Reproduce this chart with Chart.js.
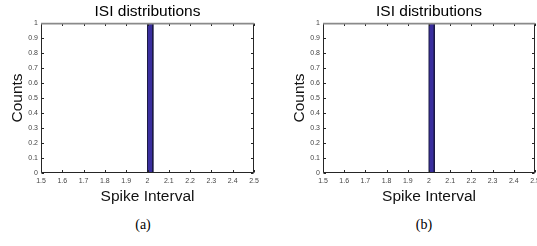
<!DOCTYPE html>
<html>
<head>
<meta charset="utf-8">
<script src="https://cdn.jsdelivr.net/npm/chart.js@4/dist/chart.umd.min.js"></script>
<style>
  html, body { margin: 0; padding: 0; background: #fff; overflow: hidden; }
  body { width: 537px; height: 246px; position: relative; }
  .panel { position: absolute; top: 0; height: 210px; }
  .caption { position: absolute; top: 217px; width: 60px; line-height: 16px; text-align: center;
             font-family: "Liberation Serif", "Times New Roman", serif; font-size: 14px; color: #000; }
</style>
</head>
<body>
<div class="panel" style="left:0;width:268px"><canvas id="chartA"></canvas></div>
<div class="panel" style="left:269px;width:290px"><canvas id="chartB"></canvas></div>
<div class="caption" style="left:113px">(a)</div>
<div class="caption" style="left:394px">(b)</div>
<script>
// histogram bins (same data in both panels)
const binEdges = [2.000, 2.025, 2.050, 2.075, 2.100, 2.125, 2.150, 2.175, 2.200, 2.225, 2.250,
                  2.275, 2.300, 2.325, 2.350, 2.375, 2.400, 2.425, 2.450, 2.475, 2.500];
const countsA = [1, 0, 0, 0, 0, 0, 0, 0, 0, 0, 0, 0, 0, 0, 0, 0, 0, 0, 0, 0];
const countsB = [1, 0, 0, 0, 0, 0, 0, 0, 0, 0, 0, 0, 0, 0, 0, 0, 0, 0, 0, 0];
const xTicks = [1.5, 1.6, 1.7, 1.8, 1.9, 2, 2.1, 2.2, 2.3, 2.4, 2.5];
const xTickLabels = ["1.5", "1.6", "1.7", "1.8", "1.9", "2", "2.1", "2.2", "2.3", "2.4", "2.5"];
const yTicks = [0, 0.1, 0.2, 0.3, 0.4, 0.5, 0.6, 0.7, 0.8, 0.9, 1];
const yTickLabels = ["0", "0.1", "0.2", "0.3", "0.4", "0.5", "0.6", "0.7", "0.8", "0.9", "1"];

const titleText = "ISI distributions";
const xLabel = "Spike Interval";
const yLabel = "Counts";

// outline of the histogram bars as a polygon
function histPoints(edges, counts) {
  const pts = [{ x: edges[0], y: 0 }];
  counts.forEach((c, i) => {
    pts.push({ x: edges[i], y: c });
    pts.push({ x: edges[i + 1], y: c });
  });
  pts.push({ x: edges[edges.length - 1], y: 0 });
  return pts;
}

// box with inward ticks, matlab style
const framePlugin = {
  id: "frame",
  afterDatasetsDraw(chart) {
    const { ctx, chartArea: a, scales: { x, y } } = chart;
    const L = a.left + 0.5, R = a.right - 0.5, T = a.top + 0.5, B = a.bottom - 0.5;
    ctx.save();
    ctx.lineWidth = 1;
    ctx.strokeStyle = "#262626";
    ctx.beginPath();
    x.ticks.forEach(t => {
      const px = Math.round(x.getPixelForValue(t.value)) + 0.5;
      ctx.moveTo(px, B); ctx.lineTo(px, B - 2.5);
      ctx.moveTo(px, T); ctx.lineTo(px, T + 2.5);
    });
    y.ticks.forEach(t => {
      const py = Math.round(y.getPixelForValue(t.value)) + 0.5;
      ctx.moveTo(L, py); ctx.lineTo(L + 2.5, py);
      ctx.moveTo(R, py); ctx.lineTo(R - 2.5, py);
    });
    ctx.moveTo(L, T); ctx.lineTo(L, B); ctx.lineTo(R, B); ctx.lineTo(R, T);
    ctx.stroke();
    ctx.strokeStyle = "#8a8a8a";
    ctx.lineWidth = 1.6;
    ctx.beginPath();
    ctx.moveTo(a.left, a.top + 0.6); ctx.lineTo(a.right, a.top + 0.6);
    ctx.stroke();
    ctx.restore();
  }
};

function makeChart(id, counts, axisWidth, yTitlePad, padRight) {
  const tickFont = { family: "'Liberation Sans', Arial, sans-serif", size: 7 };
  const labelFont = { family: "'Liberation Sans', Arial, sans-serif", size: 15.5, weight: "normal", lineHeight: 1.2 };
  return new Chart(document.getElementById(id), {
    type: "line",
    data: {
      datasets: [{
        data: histPoints(binEdges, counts),
        fill: "origin",
        backgroundColor: "#3a2e9e",
        borderColor: "#1b1a44",
        borderWidth: 1,
        pointRadius: 0,
        tension: 0
      }]
    },
    options: {
      responsive: true,
      maintainAspectRatio: false,
      animation: false,
      layout: { padding: { left: 0, right: padRight, top: 0, bottom: 0 } },
      plugins: {
        legend: { display: false },
        tooltip: { enabled: false },
        title: {
          display: true,
          text: titleText,
          fullSize: false,
          color: "#000",
          font: labelFont,
          padding: { top: 2, bottom: 2.4 }
        }
      },
      scales: {
        x: {
          type: "linear",
          min: 1.5,
          max: 2.5,
          grid: { display: false, drawTicks: false },
          border: { display: false },
          afterBuildTicks: s => { s.ticks = xTicks.map(v => ({ value: v })); },
          afterFit: s => { s.height = 37; },
          ticks: { font: tickFont, color: "#444", padding: 4, maxRotation: 0, autoSkip: false,
                   callback: (v, i) => xTickLabels[i] },
          title: { display: true, text: xLabel, color: "#111", font: labelFont, padding: { top: 0, bottom: 3.7 } }
        },
        y: {
          type: "linear",
          min: 0,
          max: 1,
          grid: { display: false, drawTicks: false },
          border: { display: false },
          afterBuildTicks: s => { s.ticks = yTicks.map(v => ({ value: v })); },
          afterFit: s => { s.width = axisWidth; },
          ticks: { font: tickFont, color: "#444", padding: 3, autoSkip: false,
                   callback: (v, i) => yTickLabels[i] },
          title: { display: true, text: yLabel, color: "#111", font: labelFont, padding: { top: yTitlePad, bottom: 0 } }
        }
      }
    },
    plugins: [framePlugin]
  });
}

makeChart("chartA", countsA, 41, 8.7, 14);
makeChart("chartB", countsB, 54, 21.7, 24);
</script>
</body>
</html>
